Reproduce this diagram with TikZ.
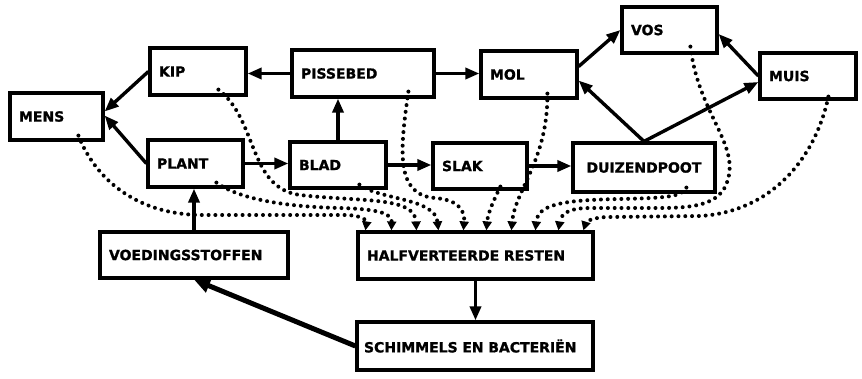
\documentclass[tikz,border=0pt]{standalone}
\usepackage{fontspec}
\newfontfamily\boxfont{DejaVu Sans Bold}[FakeBold=1.2]
\usetikzlibrary{arrows.meta}
\begin{document}
\begin{tikzpicture}[x=1pt,y=-1pt,
  box/.style={draw, line width=3.2pt, inner xsep=9pt, inner ysep=0pt, align=left,
    font=\boxfont\fontsize{14}{14}\selectfont},
  feeds/.style={line width=3.4pt, -{Triangle[length=14pt,width=11pt]}},
  decay/.style={line width=4pt, line cap=round, dash pattern=on 0pt off 6.8pt,
    -{Triangle[length=9pt,width=9pt]}},
]
\useasboundingbox (0,0) rectangle (862,378);

% organisms
\node[box, minimum height=47pt, text width=75pt]  (mens)     at (56.5,116.5) {MENS};
\node[box, minimum height=47pt, text width=78pt]  (kip)      at (198,71.5)   {KIP};
\node[box, minimum height=47pt, text width=77pt]  (plant)    at (195.5,163.5){PLANT};
\node[box, minimum height=47pt, text width=124pt] (pissebed) at (363,73.5)   {PISSEBED};
\node[box, minimum height=47pt, text width=78pt]  (mol)      at (529,74.5)   {MOL};
\node[box, minimum height=46pt, text width=78pt]  (blad)     at (338,165)    {BLAD};
\node[box, minimum height=46pt, text width=76pt]  (slak)     at (480,166)    {SLAK};
\node[box, minimum height=46pt, text width=77pt]  (vos)      at (669.5,30)   {VOS};
\node[box, minimum height=46pt, text width=78pt]  (muis)     at (808,76)     {MUIS};
\node[box, minimum height=49pt, inner xsep=13.5pt, text width=115pt] (duizendpoot) at (644,167.5) {DUIZENDPOOT};

% decomposition chain
\node[box, minimum height=46pt, text width=170pt] (voeding)  at (194,255)    {VOEDINGSSTOFFEN};
\node[box, minimum height=47pt, text width=217pt] (rest)     at (475.5,255.5){HALFVERTEERDE RESTEN};
\node[box, minimum height=48pt, inner xsep=7pt, text width=222pt] (schimmel) at (475,346) {SCHIMMELS EN BACTERIËN};

% who eats whom
\draw[feeds] (kip.west) -- ([yshift=5pt]mens.east);
\draw[feeds] (plant.west) -- ([yshift=1pt]mens.east);
\draw[feeds] (pissebed.west) -- (pissebed.west -| kip.east);
\draw[feeds] (pissebed.east) -- (pissebed.east -| mol.west);
\draw[feeds] (blad.north) -- (blad.north |- pissebed.south);
\draw[feeds] (plant.east) -- (plant.east -| blad.west);
\draw[feeds] (blad.east) -- (blad.east -| slak.west);
\draw[feeds] (slak.east) -- (slak.east -| duizendpoot.west);
\draw[feeds] ([yshift=8pt]mol.east) -- (vos.west);
\draw[feeds] (muis.west) -- ([yshift=-4pt]vos.east);
\draw[feeds] (duizendpoot.north) -- ([yshift=-6pt]mol.east);
\draw[feeds] (duizendpoot.north) -- ([yshift=-6pt]muis.west);
\draw[feeds] (voeding.north) -- (voeding.north |- plant.south);
\draw[feeds] (rest.south) -- (rest.south |- schimmel.north);
\draw[line width=5pt, -{Triangle[length=16pt,width=14pt]}] (schimmel.west) -- (voeding.south);

% remains flowing to the half-digested residue
\draw[decay] ([xshift=70pt,yshift=6pt]mens.south west)
  .. controls (95,178) and (135,214) .. (200,215) -- (345,215)
  .. controls (360,215) and (367,220) .. ([xshift=9pt]rest.north west);
\draw[decay] ([xshift=70pt,yshift=6pt]plant.south west)
  .. controls (240,200) and (290,207) .. (340,208)
  .. controls (380,209) and (392,214) .. ([xshift=35pt]rest.north west);
\draw[decay] ([xshift=70pt,yshift=7pt]kip.south west)
  .. controls (258,120) and (248,188) .. (300,195)
  .. controls (360,202) and (415,196) .. ([xshift=60pt]rest.north west);
\draw[decay] ([xshift=71pt,yshift=5pt]blad.south west)
  .. controls (380,200) and (435,198) .. ([xshift=82pt]rest.north west);
\draw[decay] ([xshift=118pt,yshift=7pt]pissebed.south west)
  .. controls (400,150) and (395,195) .. (435,198)
  .. controls (460,200) and (465,212) .. ([xshift=107pt]rest.north west);
\draw[decay] ([xshift=69pt,yshift=4pt]slak.south west)
  .. controls (494,200) and (488,212) .. ([xshift=130pt]rest.north west);
\draw[decay] ([xshift=68pt,yshift=6pt]mol.south west)
  .. controls (548,160) and (515,190) .. ([xshift=155pt]rest.north west);
\draw[decay] ([xshift=115pt,yshift=6pt]duizendpoot.south west)
  .. controls (682,197) and (665,198) .. (620,199)
  .. controls (560,200) and (538,205) .. ([xshift=179pt]rest.north west);
\draw[decay] ([xshift=70pt,yshift=8pt]vos.south west)
  .. controls (698,110) and (735,140) .. (729,175)
  .. controls (724,203) and (700,208) .. (660,208) -- (590,208)
  .. controls (568,208) and (561,214) .. ([xshift=202pt]rest.north west);
\draw[decay] ([xshift=70pt,yshift=4pt]muis.south west)
  .. controls (815,160) and (770,212) .. (700,216) -- (610,217)
  .. controls (592,217) and (586,222) .. ([xshift=227pt]rest.north west);
\end{tikzpicture}
\end{document}
